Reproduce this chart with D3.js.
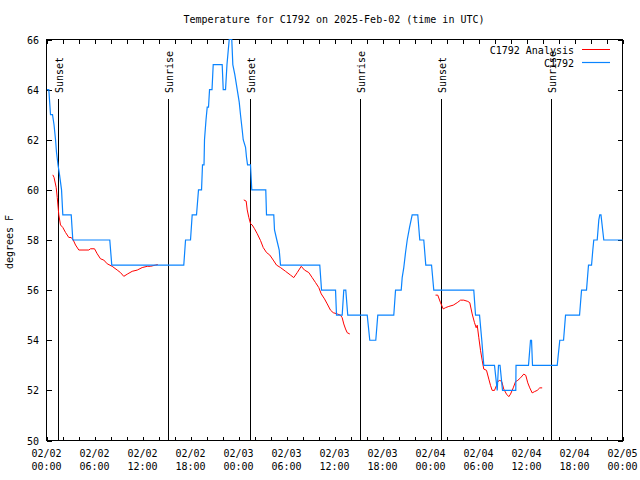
<!DOCTYPE html>
<html><head><meta charset="utf-8">
<script src="https://cdn.jsdelivr.net/npm/d3@7"></script>
<style>body{margin:0;background:#fff}svg{display:block}text{font-family:"DejaVu Sans Mono","Liberation Mono",monospace;font-size:10px;fill:#000}</style>
</head><body><svg id="c" width="640" height="480"></svg>
<script>
// ---- data (hours since 2025-02-02 00:00 UTC) ----
const chartTitle = "Temperature for C1792 on 2025-Feb-02 (time in UTC)";
const yLabel = "degrees F";
const seriesNames = ["C1792 Analysis", "C1792"];
const yTicks = [50, 52, 54, 56, 58, 60, 62, 64, 66];
const xTickHours = [0, 6, 12, 18, 24, 30, 36, 42, 48, 54, 60, 66, 72];
const xTickDates = ["02/02","02/02","02/02","02/02","02/03","02/03","02/03","02/03","02/04","02/04","02/04","02/04","02/05"];
const xTickTimes = ["00:00","06:00","12:00","18:00","00:00","06:00","12:00","18:00","00:00","06:00","12:00","18:00","00:00"];
const sunEvents = ["Sunset","Sunrise","Sunset","Sunrise","Sunset","Sunrise"];
const sunHours = [1.56, 15.31, 25.54, 39.21, 49.41, 63.16];

const obsHours = [0.06,0.29,0.5,0.75,0.94,1.13,1.25,1.44,1.63,1.88,2.04,3.09,3.29,7.91,8.16,17.16,17.38,18.0,18.21,18.75,19.0,19.38,19.5,19.69,19.75,19.94,20.09,20.25,20.38,20.69,20.84,21.96,22.09,22.38,22.56,22.84,23.16,23.29,23.54,23.84,24.09,24.25,24.46,24.59,24.88,25.0,25.13,25.5,25.66,27.41,27.5,28.41,28.5,28.79,29.09,29.25,34.16,34.38,36.13,36.25,36.96,37.16,37.41,37.66,40.09,40.41,41.16,41.41,43.41,43.63,44.34,44.46,44.66,44.88,45.09,45.38,45.71,46.41,46.66,47.16,47.41,48.13,48.41,53.41,53.63,54.13,54.41,54.66,56.0,56.34,56.5,56.69,57.0,58.66,58.69,60.25,60.5,60.63,60.75,63.84,64.16,64.63,64.88,66.63,66.88,67.5,67.75,68.13,68.29,68.41,68.84,69.04,69.16,69.31,69.66,72.0];
const obsTemps = [64,64,63,63,62.6,62,61.5,61,60.6,60,59,59,58,58,57,57,58,58,59,59,60,60,61,61,62,62.8,63.3,63.3,64,64,65,65,64,64,65,66,66,65,64.6,64,63.5,63,62.4,62,61.7,61.3,61,61,60,60,59,59,58.4,58,57.6,57,57,56,56,55,55,56,56,55,55,54,54,55,55,56,56,56.5,56.9,57.5,58,58.5,59,59,58,58,57,57,56,56,55,55,54,53,53,52,53,53,52,52,53,53,54,54,53,53,54,54,55,55,56,56,57,57,57.6,58,58,58.8,59,59,58,58];

const anaHours = [0.79,0.94,1.21,1.34,1.54,1.75,2.04,2.38,2.79,3.09,3.34,3.63,4.04,5.29,5.5,6.0,6.34,6.75,7.16,7.59,8.21,8.84,9.25,9.66,10.16,10.71,11.34,11.96,12.59,13.0,13.63,13.91,
  null,
  24.66,24.96,25.09,25.29,25.5,25.71,26.0,26.34,26.75,27.09,27.5,27.91,28.34,28.75,29.25,29.88,30.5,30.91,31.34,31.84,32.25,32.79,33.21,33.63,34.04,34.34,34.75,35.09,35.5,35.84,36.34,36.75,36.96,37.16,37.38,37.59,37.91,
  null,
  48.63,48.91,49.25,49.59,49.88,50.29,50.84,51.34,51.75,52.16,52.66,52.91,53.21,53.5,53.71,53.84,54.04,54.25,54.46,54.66,55.0,55.29,55.5,55.71,56.0,56.25,56.41,56.66,56.91,57.16,57.5,57.79,58.0,58.34,58.63,58.91,59.25,59.66,59.91,60.16,60.41,60.71,61.0,61.34,61.66,61.96];
const anaTemps = [60.6,60.5,60.1,59.7,59.0,58.6,58.5,58.3,58.1,58.1,58.0,57.8,57.6,57.6,57.65,57.65,57.45,57.25,57.2,57.05,56.95,56.8,56.7,56.55,56.65,56.75,56.8,56.9,56.95,56.95,57.0,57.02,
  null,
  59.6,59.55,59.2,58.9,58.65,58.6,58.45,58.25,57.98,57.7,57.5,57.4,57.2,57.0,56.9,56.75,56.6,56.5,56.7,56.95,56.8,56.7,56.5,56.3,56.1,55.85,55.65,55.45,55.2,55.1,55.05,55.0,54.9,54.65,54.45,54.3,54.25,
  null,
  55.8,55.8,55.5,55.25,55.3,55.35,55.4,55.5,55.6,55.6,55.55,55.5,55.05,54.7,54.5,54.6,54.1,53.6,53.2,52.85,52.8,52.45,52.2,52.0,52.0,52.2,52.35,52.4,52.35,52.05,51.85,51.75,51.85,52.1,52.35,52.4,52.5,52.65,52.6,52.3,52.1,51.9,51.95,52.0,52.1,52.1];

const colors = ["#ff0000", "#0a84ff"];

// ---- drawing ----
const svg = d3.select("#c");
const L = 46.5, R = 622.5, T = 39.5, B = 440.5;
const x = d3.scaleLinear().domain([0, 72]).range([L, R]);
const y = d3.scaleLinear().domain([50, 66]).range([B, T]);

svg.append("text").attr("x", 334).attr("y", 23).attr("text-anchor", "middle").text(chartTitle);

// axes (ticks pointing inward, mirrored)
const minor = d3.range(0, 73, 2);
const ax = [
  svg.append("g").attr("transform", `translate(0,${B})`).call(d3.axisBottom(x).tickValues(minor).tickSize(-4).tickSizeOuter(0).tickFormat("")),
  svg.append("g").attr("transform", `translate(0,${T})`).call(d3.axisTop(x).tickValues(minor).tickSize(-4).tickSizeOuter(0).tickFormat("")),
  svg.append("g").attr("transform", `translate(${L},0)`).call(d3.axisLeft(y).tickValues(yTicks).tickSize(-5).tickSizeOuter(0).tickFormat("")),
  svg.append("g").attr("transform", `translate(${R},0)`).call(d3.axisRight(y).tickValues(yTicks).tickSize(-5).tickSizeOuter(0).tickFormat(""))
];
ax.forEach(g => { g.select(".domain").remove(); g.selectAll("line").attr("stroke", "#000").attr("shape-rendering", "crispEdges"); });

svg.append("rect").attr("x", L).attr("y", T).attr("width", R - L).attr("height", B - T)
  .attr("fill", "none").attr("stroke", "#000").attr("shape-rendering", "crispEdges");

// y tick labels
svg.selectAll(".yl").data(yTicks).join("text").attr("class", "yl")
  .attr("x", 39).attr("y", d => y(d) + 4).attr("text-anchor", "end").text(d => d);
// x tick labels
const xl = svg.selectAll(".xl").data(xTickHours).join("text").attr("class", "xl").attr("text-anchor", "middle");
xl.append("tspan").attr("x", d => x(d)).attr("y", 457).text((d, i) => xTickDates[i]);
xl.append("tspan").attr("x", d => x(d)).attr("y", 470).text((d, i) => xTickTimes[i]);

svg.append("text").attr("transform", "translate(13,242) rotate(-90)").attr("text-anchor", "middle").text(yLabel);

// sunrise/sunset
sunHours.forEach((h, i) => {
  const px = Math.round(x(h) - 0.5) + 0.5;
  svg.append("line").attr("x1", px).attr("x2", px).attr("y1", 99).attr("y2", B)
    .attr("stroke", "#000").attr("shape-rendering", "crispEdges");
  svg.append("text").attr("transform", `translate(${px + 4},93) rotate(-90)`).attr("text-anchor", "start").text(sunEvents[i]);
});

// series
const obs = obsHours.map((h, i) => [h, obsTemps[i]]);
const ana = anaHours.map((h, i) => [h, anaTemps[i]]);
const line = d3.line().defined(d => d[0] !== null && d[1] !== null).x(d => x(d[0])).y(d => y(d[1]));
svg.append("path").datum(ana).attr("d", line).attr("fill", "none").attr("stroke", colors[0]).attr("stroke-width", 1);
svg.append("path").datum(obs).attr("d", line).attr("fill", "none").attr("stroke", colors[1]).attr("stroke-width", 1.2);

// legend
seriesNames.forEach((n, i) => {
  const ly = 49.5 + i * 13;
  svg.append("text").attr("x", 574).attr("y", ly + 4).attr("text-anchor", "end").text(n);
  svg.append("line").attr("x1", 582).attr("x2", 610).attr("y1", ly).attr("y2", ly)
    .attr("stroke", colors[i]).attr("stroke-width", i ? 1.2 : 1);
});
</script></body></html>
